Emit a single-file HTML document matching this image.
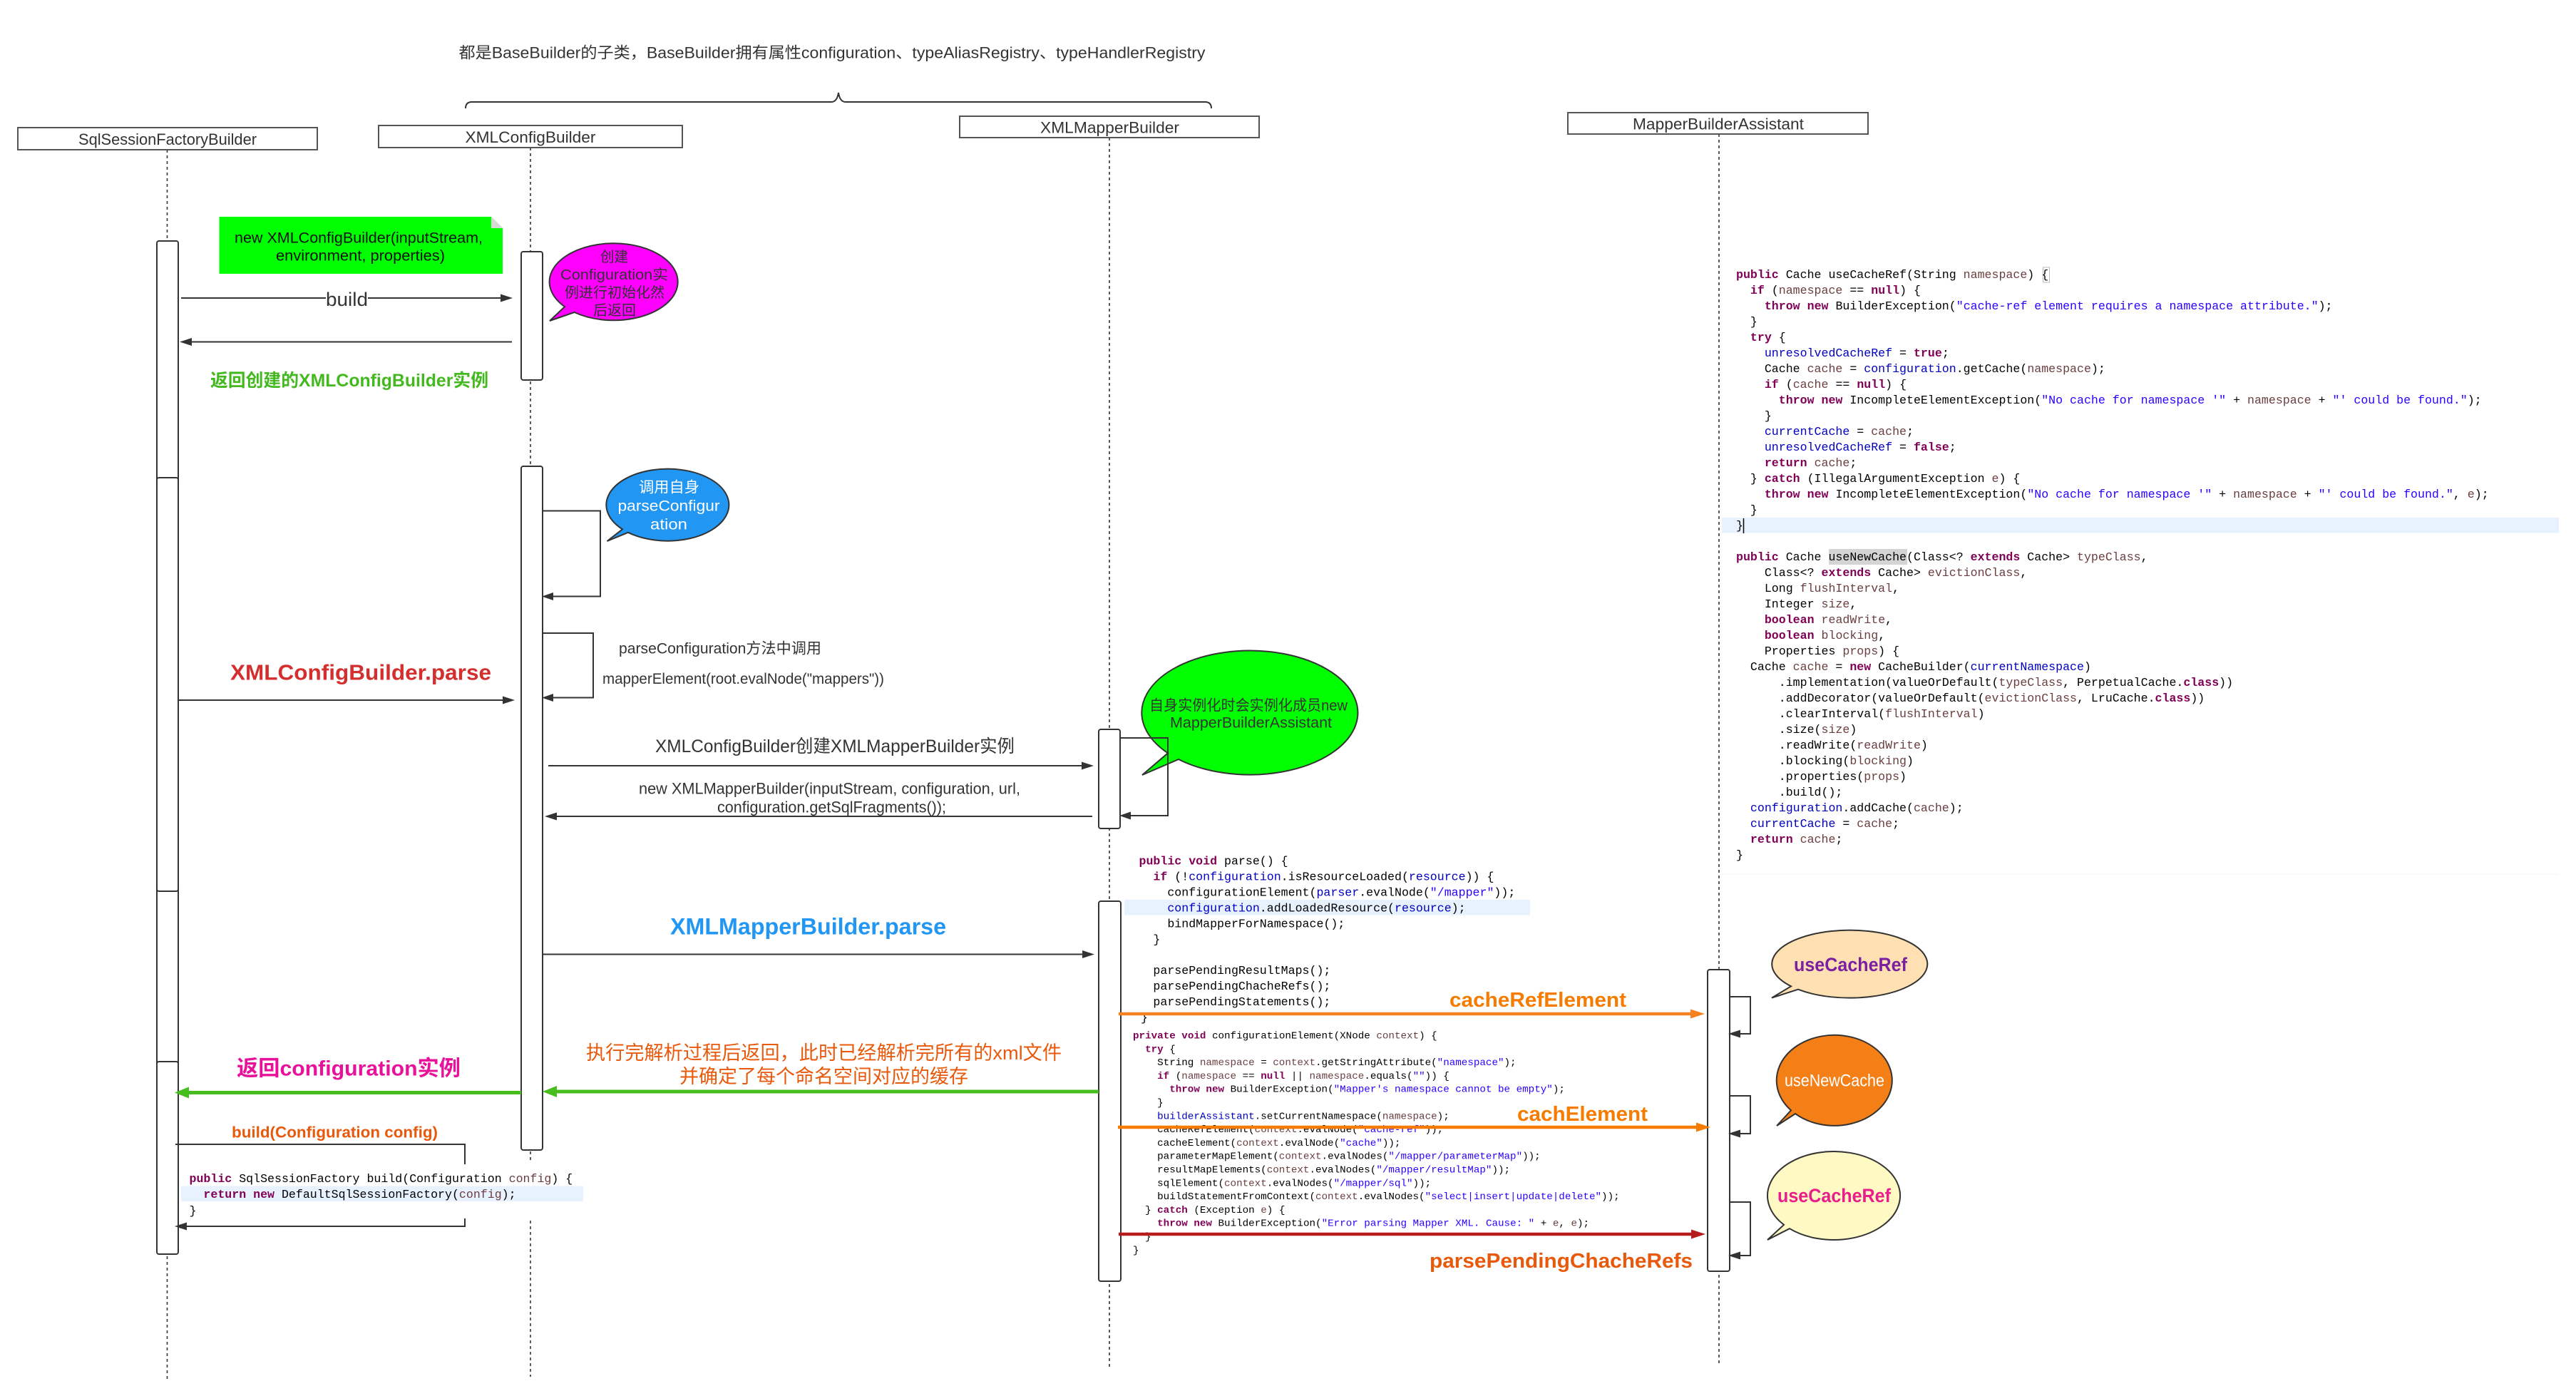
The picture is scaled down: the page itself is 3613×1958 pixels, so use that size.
<!DOCTYPE html>
<html>
<head>
<meta charset="utf-8">
<style>
html,body{margin:0;padding:0;background:#fff;width:3613px;height:1958px;overflow:hidden}
svg{display:block}
.t{font-family:"Liberation Sans","Noto Sans CJK SC",sans-serif;dominant-baseline:central;fill:#333;white-space:pre}
.b{font-weight:bold}
.c{font-family:"Liberation Mono",monospace;font-size:16.6px;fill:#000;white-space:pre}
.c2{font-family:"Liberation Mono",monospace;font-size:14.22px;fill:#000;white-space:pre}
.k{fill:#7f0055;font-weight:bold}
.f{fill:#0000c0}
.v{fill:#6a3e3e}
.s{fill:#2a00ff}
.l{stroke:#333;stroke-width:2;fill:none}
.d{stroke:#333;stroke-width:1.6;stroke-dasharray:4 4;fill:none}
.bar{fill:#fff;stroke:#333;stroke-width:2}
.hd{fill:#fff;stroke:#555;stroke-width:2}
.h{fill:#333}
.bub{stroke:#333;stroke-width:2}
</style>
</head>
<body>
<svg xmlns="http://www.w3.org/2000/svg" width="3613" height="1958" viewBox="0 0 3613 1958">
<rect width="3613" height="1958" fill="#fff"/>

<!-- top note and brace -->
<text class="t" x="643.5" y="74" font-size="22" textLength="1047" lengthAdjust="spacingAndGlyphs">都是BaseBuilder的子类，BaseBuilder拥有属性configuration、typeAliasRegistry、typeHandlerRegistry</text>
<path d="M653 152 Q653 143 662 143 L1166 143 Q1174 143 1176 130 Q1178 143 1186 143 L1690 143 Q1699 143 1699 152" class="l"/>

<!-- lifelines -->
<path d="M234.500 210V1934" class="d"/>
<path d="M744 207V1631M744 1712V1931" class="d"/>
<path d="M1556 193V1920" class="d"/>
<path d="M2411 188V1912" class="d"/>

<!-- headers -->
<rect class="hd" x="25" y="179" width="420" height="31"/>
<text class="t" x="110" y="195.500" font-size="22" textLength="250" lengthAdjust="spacingAndGlyphs">SqlSessionFactoryBuilder</text>
<rect class="hd" x="531" y="176" width="426" height="31"/>
<text class="t" x="652.500" y="192.500" font-size="22" textLength="183" lengthAdjust="spacingAndGlyphs">XMLConfigBuilder</text>
<rect class="hd" x="1346" y="163" width="420" height="30"/>
<text class="t" x="1459" y="179" font-size="22" textLength="195" lengthAdjust="spacingAndGlyphs">XMLMapperBuilder</text>
<rect class="hd" x="2199" y="158" width="421" height="30"/>
<text class="t" x="2290" y="174" font-size="22" textLength="240" lengthAdjust="spacingAndGlyphs">MapperBuilderAssistant</text>

<!-- activation bars -->
<rect class="bar" x="220" y="338" width="30" height="1160" rx="3"/>
<rect class="bar" x="220" y="670" width="30" height="580" rx="3"/>
<rect class="bar" x="220" y="1489" width="30" height="270" rx="3"/>
<rect class="bar" x="731" y="353" width="30" height="180" rx="3"/>
<rect class="bar" x="731" y="654" width="30" height="959" rx="3"/>
<rect class="bar" x="1541" y="1023" width="30" height="139" rx="3"/>
<rect class="bar" x="1541" y="1264" width="31" height="533" rx="3"/>
<rect class="bar" x="2395" y="1360" width="31" height="423" rx="3"/>

<!-- green note -->
<polygon points="307.500,304 689,304 705,320 705,384 307.500,384" fill="#00ff00"/>
<polygon points="689,304 705,320 689,320" fill="#d7d7d7"/>
<text class="t" x="329" y="334" font-size="21" textLength="348" lengthAdjust="spacingAndGlyphs" style="fill:#111">new XMLConfigBuilder(inputStream,</text>
<text class="t" x="387" y="359" font-size="21" textLength="237" lengthAdjust="spacingAndGlyphs" style="fill:#111">environment, properties)</text>

<!-- magenta bubble -->
<path class="bub" fill="#ff00ff" d="M771 450 L792 430.200 A90 54 0 1 1 805.600 438 Z"/>
<text class="t" x="842" y="361" font-size="20" textLength="39" lengthAdjust="spacingAndGlyphs">创建</text>
<text class="t" x="786" y="386" font-size="20" textLength="151" lengthAdjust="spacingAndGlyphs">Configuration实</text>
<text class="t" x="792" y="411" font-size="20" textLength="140" lengthAdjust="spacingAndGlyphs">例进行初始化然</text>
<text class="t" x="832" y="436" font-size="20" textLength="60" lengthAdjust="spacingAndGlyphs">后返回</text>

<!-- build -->
<path class="l" d="M254 418H704"/>
<polygon class="h" points="719,418 702,412.500 702,423.500"/>
<rect x="457" y="405" width="59" height="28" fill="#fff"/>
<text class="t" x="457" y="420" font-size="27" textLength="59" lengthAdjust="spacingAndGlyphs">build</text>
<path class="l" d="M267 479.500H718"/>
<polygon class="h" points="252,479.500 269,474 269,485"/>
<text class="t b" x="295" y="534" font-size="25" textLength="390" lengthAdjust="spacingAndGlyphs" style="fill:#44b91f">返回创建的XMLConfigBuilder实例</text>

<!-- blue bubble and self loops -->
<path class="l" d="M761 716.500H842V836.500H775"/>
<polygon class="h" points="760,836.500 776,831 776,842"/>
<path class="bub" fill="#2196f3" d="M851.500 759 L873 742.300 A86 50.500 0 1 1 881 746.800 Z"/>
<text class="t" x="896" y="684" font-size="21" textLength="85" lengthAdjust="spacingAndGlyphs" style="fill:#fff">调用自身</text>
<text class="t" x="866.500" y="710" font-size="21" textLength="143" lengthAdjust="spacingAndGlyphs" style="fill:#fff">parseConfigur</text>
<text class="t" x="912" y="736" font-size="21" textLength="52" lengthAdjust="spacingAndGlyphs" style="fill:#fff">ation</text>
<path class="l" d="M761 888H832V978.500H775"/>
<polygon class="h" points="760,978.500 776,973 776,984"/>
<text class="t" x="868" y="910" font-size="21" textLength="284" lengthAdjust="spacingAndGlyphs">parseConfiguration方法中调用</text>
<text class="t" x="845" y="952.500" font-size="21" textLength="395" lengthAdjust="spacingAndGlyphs">mapperElement(root.evalNode("mappers"))</text>

<!-- XMLConfigBuilder.parse -->
<text class="t b" x="323" y="943" font-size="31" textLength="366" lengthAdjust="spacingAndGlyphs" style="fill:#d32f2f">XMLConfigBuilder.parse</text>
<path class="l" d="M251 982H706"/>
<polygon class="h" points="722,982 705,976.500 705,987.500"/>

<!-- create XMLMapperBuilder -->
<text class="t" x="919" y="1047" font-size="25" textLength="504" lengthAdjust="spacingAndGlyphs">XMLConfigBuilder创建XMLMapperBuilder实例</text>
<path class="l" d="M769 1074H1518"/>
<polygon class="h" points="1534,1074 1517,1068.500 1517,1079.500"/>
<text class="t" x="896" y="1106" font-size="22" textLength="535" lengthAdjust="spacingAndGlyphs">new XMLMapperBuilder(inputStream, configuration, url,</text>
<text class="t" x="1006" y="1132" font-size="22" textLength="321" lengthAdjust="spacingAndGlyphs">configuration.getSqlFragments());</text>
<path class="l" d="M779 1145H1532"/>
<polygon class="h" points="764,1145 781,1139.500 781,1150.500"/>

<!-- green bubble + loop -->
<path class="bub" fill="#00ff00" d="M1602 1087 L1638 1056.300 A151.500 87 0 1 1 1653 1065 Z"/>
<text class="t" x="1612" y="990" font-size="21" textLength="278" lengthAdjust="spacingAndGlyphs">自身实例化时会实例化成员new</text>
<text class="t" x="1641" y="1014" font-size="21" textLength="227" lengthAdjust="spacingAndGlyphs">MapperBuilderAssistant</text>
<path class="l" d="M1571 1035H1638V1144H1585"/>
<polygon class="h" points="1570,1144 1586,1138.500 1586,1149.500"/>

<!-- XMLMapperBuilder.parse -->
<text class="t b" x="940" y="1299.500" font-size="32" textLength="387" lengthAdjust="spacingAndGlyphs" style="fill:#2196f3">XMLMapperBuilder.parse</text>
<path class="l" d="M761 1338.500H1520"/>
<polygon class="h" points="1535,1338.500 1518,1333 1518,1344"/>

<!-- return green -->
<text class="t" x="822" y="1477" font-size="27" textLength="667" lengthAdjust="spacingAndGlyphs" style="fill:#e8590c">执行完解析过程后返回，此时已经解析完所有的xml文件</text>
<text class="t" x="953" y="1510" font-size="27" textLength="405" lengthAdjust="spacingAndGlyphs" style="fill:#e8590c">并确定了每个命名空间对应的缓存</text>
<text class="t b" x="332" y="1499" font-size="30" textLength="314" lengthAdjust="spacingAndGlyphs" style="fill:#e8119a">返回configuration实例</text>
<path d="M1541 1531H778" stroke="#47bd1e" stroke-width="5" fill="none"/>
<polygon points="761,1531 781,1523 781,1539" fill="#47bd1e"/>
<path d="M731 1532.500H262" stroke="#47bd1e" stroke-width="5" fill="none"/>
<polygon points="245,1532.500 265,1524.500 265,1540.500" fill="#47bd1e"/>

<!-- build(Configuration config) -->
<text class="t b" x="325" y="1588" font-size="22" textLength="289" lengthAdjust="spacingAndGlyphs" style="fill:#e8590c">build(Configuration config)</text>
<path class="l" d="M246 1605H652V1633"/>
<path class="l" d="M652 1709V1720H260"/>
<polygon class="h" points="245,1720 262,1714.500 262,1725.500"/>
<rect x="254" y="1663.500" width="564" height="21.500" fill="#e8f2fe"/>
<text class="c" x="265.500" y="1658"><tspan class="k">public</tspan> SqlSessionFactory build(Configuration <tspan class="v">config</tspan>) {</text>
<text class="c" x="265.500" y="1680">  <tspan class="k">return</tspan> <tspan class="k">new</tspan> DefaultSqlSessionFactory(<tspan class="v">config</tspan>);</text>
<text class="c" x="265.500" y="1703">}</text>

<!-- middle code: parse -->
<rect x="1577" y="1262" width="569" height="21.500" fill="#e8f2fe"/>
<text class="c" x="1597.500" y="1212.500"><tspan class="k">public</tspan> <tspan class="k">void</tspan> parse() {</text>
<text class="c" x="1597.500" y="1234.500">  <tspan class="k">if</tspan> (!<tspan class="f">configuration</tspan>.isResourceLoaded(<tspan class="f">resource</tspan>)) {</text>
<text class="c" x="1597.500" y="1256.400">    configurationElement(<tspan class="f">parser</tspan>.evalNode(<tspan class="s">"/mapper"</tspan>));</text>
<text class="c" x="1597.500" y="1278.400">    <tspan class="f">configuration</tspan>.addLoadedResource(<tspan class="f">resource</tspan>);</text>
<text class="c" x="1597.500" y="1300.300">    bindMapperForNamespace();</text>
<text class="c" x="1597.500" y="1322.300">  }</text>
<text class="c" x="1597.500" y="1366.200">  parsePendingResultMaps();</text>
<text class="c" x="1597.500" y="1388.100">  parsePendingChacheRefs();</text>
<text class="c" x="1597.500" y="1410.100">  parsePendingStatements();</text>
<text class="c" x="1600" y="1432">}</text>

<!-- middle code: configurationElement -->
<text class="c2" x="1589" y="1456.500"><tspan class="k">private</tspan> <tspan class="k">void</tspan> configurationElement(XNode <tspan class="v">context</tspan>) {</text>
<text class="c2" x="1589" y="1475.300">  <tspan class="k">try</tspan> {</text>
<text class="c2" x="1589" y="1494.100">    String <tspan class="v">namespace</tspan> = <tspan class="v">context</tspan>.getStringAttribute(<tspan class="s">"namespace"</tspan>);</text>
<text class="c2" x="1589" y="1512.900">    <tspan class="k">if</tspan> (<tspan class="v">namespace</tspan> == <tspan class="k">null</tspan> || <tspan class="v">namespace</tspan>.equals(<tspan class="s">""</tspan>)) {</text>
<text class="c2" x="1589" y="1531.700">      <tspan class="k">throw</tspan> <tspan class="k">new</tspan> BuilderException(<tspan class="s">"Mapper's namespace cannot be empty"</tspan>);</text>
<text class="c2" x="1589" y="1550.500">    }</text>
<text class="c2" x="1589" y="1569.300">    <tspan class="f">builderAssistant</tspan>.setCurrentNamespace(<tspan class="v">namespace</tspan>);</text>
<text class="c2" x="1589" y="1588.100">    cacheRefElement(<tspan class="v">context</tspan>.evalNode(<tspan class="s">"cache-ref"</tspan>));</text>
<text class="c2" x="1589" y="1606.900">    cacheElement(<tspan class="v">context</tspan>.evalNode(<tspan class="s">"cache"</tspan>));</text>
<text class="c2" x="1589" y="1625.700">    parameterMapElement(<tspan class="v">context</tspan>.evalNodes(<tspan class="s">"/mapper/parameterMap"</tspan>));</text>
<text class="c2" x="1589" y="1644.500">    resultMapElements(<tspan class="v">context</tspan>.evalNodes(<tspan class="s">"/mapper/resultMap"</tspan>));</text>
<text class="c2" x="1589" y="1663.300">    sqlElement(<tspan class="v">context</tspan>.evalNodes(<tspan class="s">"/mapper/sql"</tspan>));</text>
<text class="c2" x="1589" y="1682.100">    buildStatementFromContext(<tspan class="v">context</tspan>.evalNodes(<tspan class="s">"select|insert|update|delete"</tspan>));</text>
<text class="c2" x="1589" y="1700.900">  } <tspan class="k">catch</tspan> (Exception <tspan class="v">e</tspan>) {</text>
<text class="c2" x="1589" y="1719.700">    <tspan class="k">throw</tspan> <tspan class="k">new</tspan> BuilderException(<tspan class="s">"Error parsing Mapper XML. Cause: "</tspan> + <tspan class="v">e</tspan>, <tspan class="v">e</tspan>);</text>
<text class="c2" x="1589" y="1738.500">  }</text>
<text class="c2" x="1589" y="1757.300">}</text>

<!-- coloured arrows -->
<path d="M1569 1422H2373" stroke="#f5821e" stroke-width="4.500" fill="none"/>
<polygon points="2391,1422 2371,1415.500 2371,1428.500" fill="#f5821e"/>
<path d="M1568 1581H2381" stroke="#f57c00" stroke-width="4.500" fill="none"/>
<polygon points="2399,1581 2379,1574.500 2379,1587.500" fill="#f57c00"/>
<path d="M1569 1731H2374" stroke="#b71c1c" stroke-width="4.500" fill="none"/>
<polygon points="2392,1731 2372,1724.500 2372,1737.500" fill="#b71c1c"/>
<text class="t b" x="2033" y="1403" font-size="29" textLength="248" lengthAdjust="spacingAndGlyphs" style="fill:#f57c00">cacheRefElement</text>
<text class="t b" x="2128" y="1563" font-size="29" textLength="183" lengthAdjust="spacingAndGlyphs" style="fill:#f57c00">cachElement</text>
<text class="t b" x="2005" y="1769" font-size="29" textLength="369" lengthAdjust="spacingAndGlyphs" style="fill:#e8590c">parsePendingChacheRefs</text>

<!-- right loops -->
<path class="l" d="M2426 1398H2455V1450H2438"/>
<polygon class="h" points="2424,1450 2441,1444.500 2441,1455.500"/>
<path class="l" d="M2426 1537H2455V1590H2438"/>
<polygon class="h" points="2424,1590 2441,1584.500 2441,1595.500"/>
<path class="l" d="M2426 1686H2455V1761H2438"/>
<polygon class="h" points="2424,1761 2441,1755.500 2441,1766.500"/>

<!-- right bubbles -->
<path class="bub" fill="#ffe0b2" d="M2485 1399.600 L2512 1383.300 A109 47.500 0 1 1 2522 1387.700 Z"/>
<text class="t b" x="2516" y="1353" font-size="27" textLength="159" lengthAdjust="spacingAndGlyphs" style="fill:#7b1fa2">useCacheRef</text>
<path class="bub" fill="#f57f17" d="M2492 1579 L2512 1557.300 A81 63.500 0 1 1 2518 1562.100 Z"/>
<text class="t" x="2503" y="1516" font-size="24" textLength="140" lengthAdjust="spacingAndGlyphs" style="fill:#fff">useNewCache</text>
<path class="bub" fill="#fff9c4" d="M2479 1739 L2502 1717.800 A93 62 0 1 1 2510 1723.200 Z"/>
<text class="t b" x="2493" y="1677" font-size="27" textLength="159" lengthAdjust="spacingAndGlyphs" style="fill:#e91e8c">useCacheRef</text>

<!-- right code -->
<rect x="2415" y="726" width="1174" height="21.500" fill="#e8f2fe"/>
<rect x="2865.500" y="375" width="9" height="21" fill="none" stroke="#bbb" stroke-width="1"/>
<rect x="2565" y="770" width="110" height="22" fill="#d4d4d4"/>
<path d="M2445.500 727V748" stroke="#000" stroke-width="1.500"/>
<path d="M2415 1226H3589" stroke="#f5f5f5" stroke-width="1"/>
<text class="c" x="2435" y="390"><tspan class="k">public</tspan> Cache useCacheRef(String <tspan class="v">namespace</tspan>) {</text>
<text class="c" x="2435" y="412">  <tspan class="k">if</tspan> (<tspan class="v">namespace</tspan> == <tspan class="k">null</tspan>) {</text>
<text class="c" x="2435" y="434">    <tspan class="k">throw</tspan> <tspan class="k">new</tspan> BuilderException(<tspan class="s">"cache-ref element requires a namespace attribute."</tspan>);</text>
<text class="c" x="2435" y="456">  }</text>
<text class="c" x="2435" y="478">  <tspan class="k">try</tspan> {</text>
<text class="c" x="2435" y="500">    <tspan class="f">unresolvedCacheRef</tspan> = <tspan class="k">true</tspan>;</text>
<text class="c" x="2435" y="522">    Cache <tspan class="v">cache</tspan> = <tspan class="f">configuration</tspan>.getCache(<tspan class="v">namespace</tspan>);</text>
<text class="c" x="2435" y="544">    <tspan class="k">if</tspan> (<tspan class="v">cache</tspan> == <tspan class="k">null</tspan>) {</text>
<text class="c" x="2435" y="566">      <tspan class="k">throw</tspan> <tspan class="k">new</tspan> IncompleteElementException(<tspan class="s">"No cache for namespace '"</tspan> + <tspan class="v">namespace</tspan> + <tspan class="s">"' could be found."</tspan>);</text>
<text class="c" x="2435" y="588">    }</text>
<text class="c" x="2435" y="610">    <tspan class="f">currentCache</tspan> = <tspan class="v">cache</tspan>;</text>
<text class="c" x="2435" y="632">    <tspan class="f">unresolvedCacheRef</tspan> = <tspan class="k">false</tspan>;</text>
<text class="c" x="2435" y="654">    <tspan class="k">return</tspan> <tspan class="v">cache</tspan>;</text>
<text class="c" x="2435" y="676">  } <tspan class="k">catch</tspan> (IllegalArgumentException <tspan class="v">e</tspan>) {</text>
<text class="c" x="2435" y="698">    <tspan class="k">throw</tspan> <tspan class="k">new</tspan> IncompleteElementException(<tspan class="s">"No cache for namespace '"</tspan> + <tspan class="v">namespace</tspan> + <tspan class="s">"' could be found."</tspan>, <tspan class="v">e</tspan>);</text>
<text class="c" x="2435" y="720">  }</text>
<text class="c" x="2435" y="742">}</text>
<text class="c" x="2435" y="786"><tspan class="k">public</tspan> Cache useNewCache(Class&lt;? <tspan class="k">extends</tspan> Cache&gt; <tspan class="v">typeClass</tspan>,</text>
<text class="c" x="2435" y="808">    Class&lt;? <tspan class="k">extends</tspan> Cache&gt; <tspan class="v">evictionClass</tspan>,</text>
<text class="c" x="2435" y="830">    Long <tspan class="v">flushInterval</tspan>,</text>
<text class="c" x="2435" y="852">    Integer <tspan class="v">size</tspan>,</text>
<text class="c" x="2435" y="874">    <tspan class="k">boolean</tspan> <tspan class="v">readWrite</tspan>,</text>
<text class="c" x="2435" y="896">    <tspan class="k">boolean</tspan> <tspan class="v">blocking</tspan>,</text>
<text class="c" x="2435" y="918">    Properties <tspan class="v">props</tspan>) {</text>
<text class="c" x="2435" y="940">  Cache <tspan class="v">cache</tspan> = <tspan class="k">new</tspan> CacheBuilder(<tspan class="f">currentNamespace</tspan>)</text>
<text class="c" x="2435" y="962">      .implementation(valueOrDefault(<tspan class="v">typeClass</tspan>, PerpetualCache.<tspan class="k">class</tspan>))</text>
<text class="c" x="2435" y="984">      .addDecorator(valueOrDefault(<tspan class="v">evictionClass</tspan>, LruCache.<tspan class="k">class</tspan>))</text>
<text class="c" x="2435" y="1006">      .clearInterval(<tspan class="v">flushInterval</tspan>)</text>
<text class="c" x="2435" y="1028">      .size(<tspan class="v">size</tspan>)</text>
<text class="c" x="2435" y="1050">      .readWrite(<tspan class="v">readWrite</tspan>)</text>
<text class="c" x="2435" y="1072">      .blocking(<tspan class="v">blocking</tspan>)</text>
<text class="c" x="2435" y="1094">      .properties(<tspan class="v">props</tspan>)</text>
<text class="c" x="2435" y="1116">      .build();</text>
<text class="c" x="2435" y="1138">  <tspan class="f">configuration</tspan>.addCache(<tspan class="v">cache</tspan>);</text>
<text class="c" x="2435" y="1160">  <tspan class="f">currentCache</tspan> = <tspan class="v">cache</tspan>;</text>
<text class="c" x="2435" y="1182">  <tspan class="k">return</tspan> <tspan class="v">cache</tspan>;</text>
<text class="c" x="2435" y="1204">}</text>
</svg>
</body>
</html>
